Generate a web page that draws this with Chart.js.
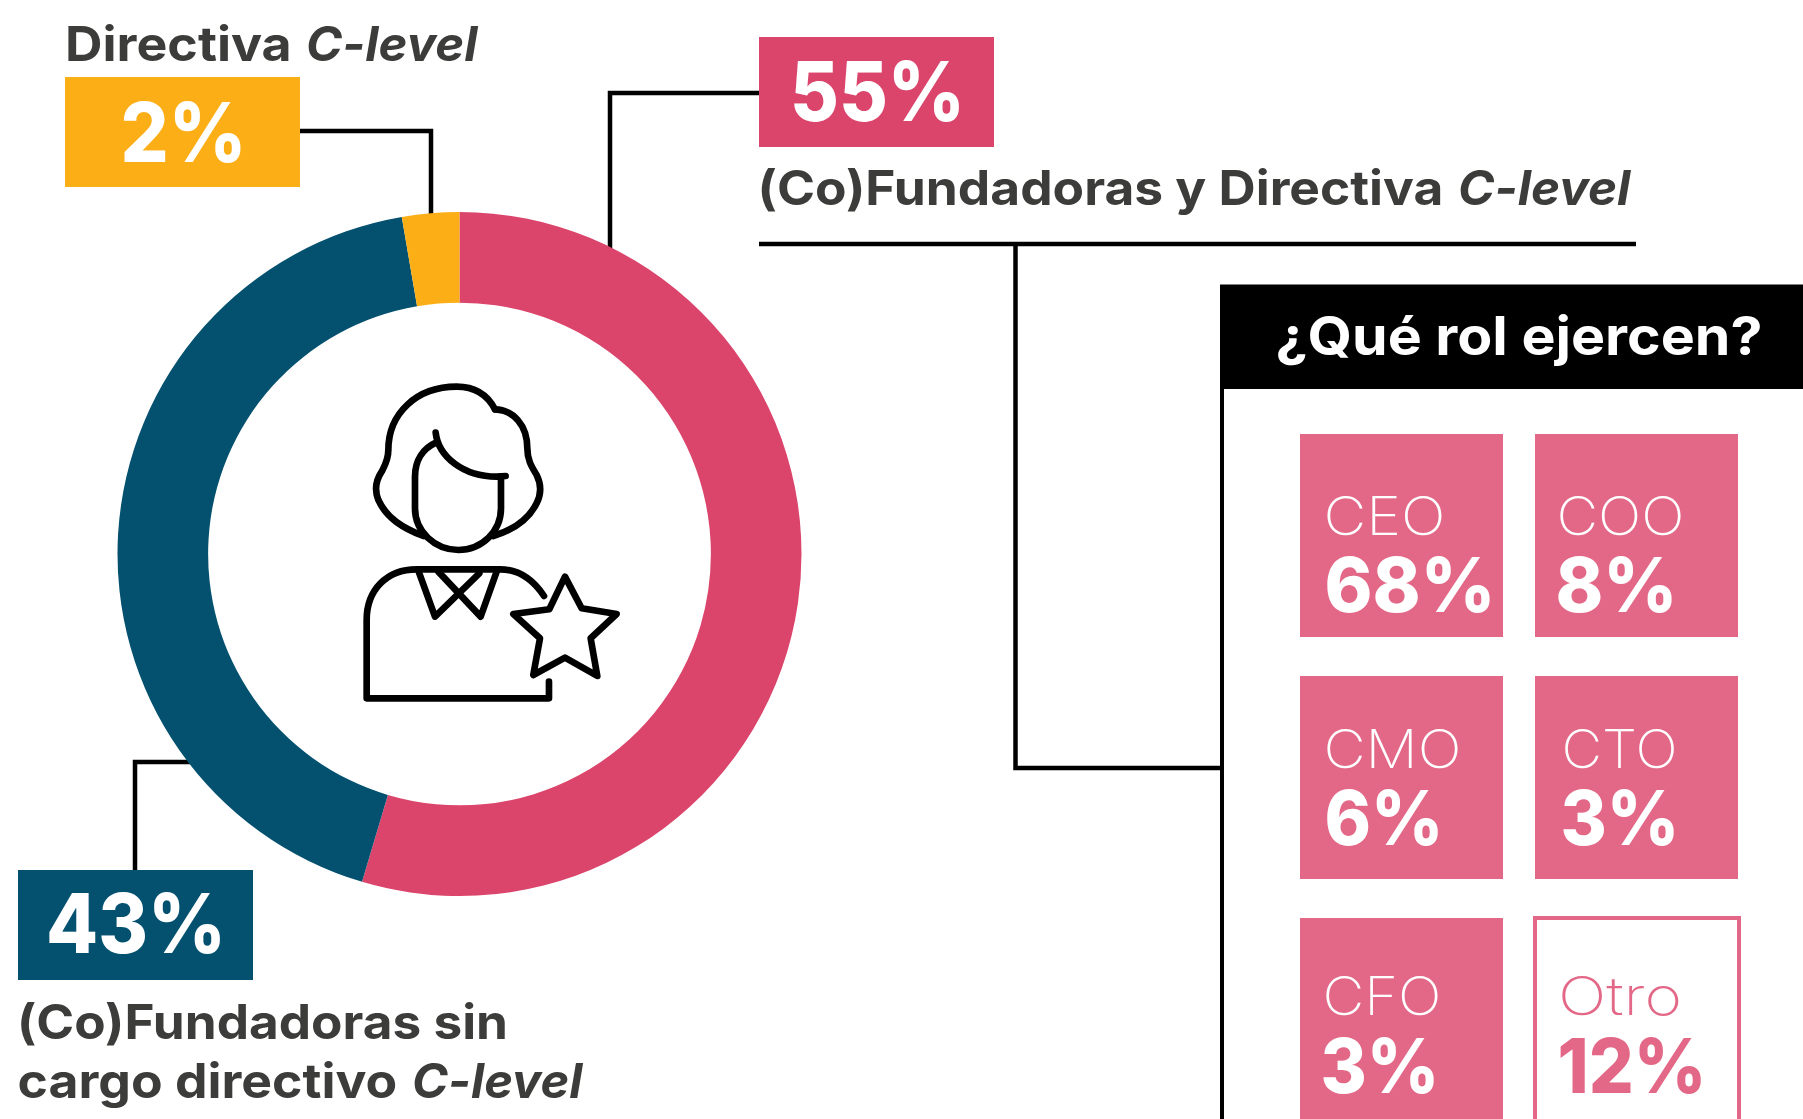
<!DOCTYPE html>
<html lang="es">
<head>
<meta charset="utf-8">
<title>Rol de las fundadoras y directivas</title>
<style>
html,body{margin:0;padding:0;background:#fff;width:1803px;height:1119px;overflow:hidden}
#art,#donut{position:absolute;left:0;top:0}
#donut{left:109px;top:204px}
text{font-family:Inter,"Open Sans",sans-serif}
</style>
<script src="https://cdn.jsdelivr.net/npm/chart.js@4"></script>
</head>
<body>
<svg id="art" width="1803" height="1119" viewBox="0 0 1803 1119" xmlns="http://www.w3.org/2000/svg"></svg>
<canvas id="donut" width="701" height="700"></canvas>
<script>
// Segment names and arc shares as read from the ring, clockwise from 12 o'clock.
const segmentNames = ["(Co)Fundadoras y Directiva C-level", "(Co)Fundadoras sin cargo directivo C-level", "Directiva C-level"];
const segmentShares = [54.6, 42.7, 2.7];
const segmentColors = ["#DB456C", "#03506F", "#FCAE17"];
// Percentages printed on the labels.
const segmentLabels = ["55%", "43%", "2%"];

const roleNames = ["CEO", "COO", "CMO", "CTO", "CFO", "Otro"];
const roleValues = [68, 8, 6, 3, 3, 12];
const roleTitle = "¿Qué rol ejercen?";

const NS = "http://www.w3.org/2000/svg";
const art = document.getElementById("art");
function el(tag, attrs, parent, content) {
  const n = document.createElementNS(NS, tag);
  for (const k in attrs) n.setAttribute(k, attrs[k]);
  if (content !== undefined) n.textContent = content;
  (parent || art).appendChild(n);
  return n;
}
// Text placed by left edge, baseline and width.
function label(x, y, w, size, weight, fill, text) {
  return el("text", {x, y, "font-size": size, "font-weight": weight, fill, textLength: w, lengthAdjust: "spacingAndGlyphs"}, art, text);
}
// Two-style label: an upright run, then an italic run with its own start and width.
function mixedLabel(y, size, weight, fill, x1, w1, text1, x2, w2, text2) {
  const t = el("text", {y, "font-size": size, "font-weight": weight, fill});
  el("tspan", {x: x1, textLength: w1, lengthAdjust: "spacingAndGlyphs"}, t, text1);
  el("tspan", {x: x2, textLength: w2, lengthAdjust: "spacingAndGlyphs", "font-style": "italic"}, t, text2);
  return t;
}
function rect(x, y, w, h, fill) { return el("rect", {x, y, width: w, height: h, fill}); }
function path(d, sw, stroke, parent) {
  return el("path", {d, fill: "none", stroke: stroke || "#000", "stroke-width": sw}, parent);
}

const DARK = "#3C3C3B", TILE = "#E36887", WHITE = "#fff";

// Connector lines
const lw = 4.5;
path("M300 131H431V225", lw);
path("M759 93H610V258", lw);
path("M195 762H135V872", lw);
path("M759 244H1636", lw);
path("M1015.5 244V768H1222", lw);

// Value boxes
rect(65, 77, 235, 110, segmentColors[2]);
rect(759, 37, 235, 110, segmentColors[0]);
rect(18, 870, 235, 110, segmentColors[1]);

mixedLabel(61, 48, 700, DARK, 65, 239, "Directiva ", 306, 171.5, "C-level");
label(120.5, 161.5, 126, 82, 800, WHITE, segmentLabels[2]);
label(790, 121, 175, 82, 800, WHITE, segmentLabels[0]);
mixedLabel(205, 48, 700, DARK, 757.5, 698, "(Co)Fundadoras y Directiva ", 1458, 172.5, "C-level");
label(46, 953, 180, 82, 800, WHITE, segmentLabels[1]);
label(17, 1039, 491, 48, 700, DARK, "(Co)Fundadoras sin");
mixedLabel(1097.5, 48, 700, DARK, 17.5, 392, "cargo directivo ", 412, 170.5, "C-level");

// Roles panel
rect(1220, 284.5, 583, 104.5, "#000");
rect(1220, 389, 4, 730, "#000");
label(1275.5, 355, 487, 53, 700, WHITE, roleTitle);

const tileX = [1300, 1535], tileY = [434, 676, 918], tileW = 203, tileH = 203;
const nameBase = [535, 768, 1015], valueBase = [612, 845, 1093];
const nameBox = [[1323.5, 122], [1556.5, 128], [1323.5, 138], [1561.5, 116], [1322.5, 119], [1558, 124]];
const valueBox = [[1324.5, 171], [1555.5, 122], [1324.5, 119], [1560.5, 119], [1320.5, 119], [1557.5, 149]];
roleNames.forEach((name, i) => {
  const c = i % 2, r = Math.floor(i / 2), outlined = name === "Otro";
  if (outlined) {
    el("rect", {x: tileX[c], y: tileY[r], width: tileW + 1, height: tileH + 10, fill: WHITE, stroke: TILE, "stroke-width": 4});
  } else {
    rect(tileX[c], tileY[r], tileW, tileH, TILE);
  }
  const ink = outlined ? TILE : WHITE;
  label(nameBox[i][0], nameBase[r], nameBox[i][1], 53, 200, ink, name);
  label(valueBox[i][0], valueBase[r], valueBox[i][1], 76, 800, ink, roleValues[i] + "%");
});

// Central icon
const icon = el("g", {transform: "translate(340 360) scale(0.3333)", "stroke-linecap": "round", "stroke-linejoin": "round"});
[
  "M465 148C440 100 400 80 350 80C230 80 145 160 145 270C145 300 135 315 125 335C105 365 105 395 115 420C140 475 190 505 250 528",
  "M465 148C520 150 562 195 562 265C562 300 575 320 590 345C605 375 605 400 590 430C565 480 520 510 460 528",
  "M288 248C250 265 225 300 225 350V445C225 515 285 570 355 570C425 570 483 515 483 445V350",
  "M287 218C295 290 370 350 470 350L497 348",
  "M612 708C580 660 535 628 480 628H230C140 628 80 690 80 780V1015H627V965",
  "M235 632L285 770L418 640",
  "M295 635L422 770L470 635",
  "M675 650L725 745L830 762L752 835L772 948L675 893L580 945L600 835L520 762L628 748Z"
].forEach(d => path(d, 20, "#000", icon));

// Ring drawn by Chart.js
new Chart(document.getElementById("donut"), {
  type: "doughnut",
  data: {
    labels: segmentNames,
    datasets: [{data: segmentShares, backgroundColor: segmentColors, borderWidth: 0, hoverOffset: 0}]
  },
  options: {
    responsive: false,
    animation: false,
    cutout: "73.5%",
    rotation: 0,
    layout: {padding: 8},
    plugins: {legend: {display: false}, tooltip: {enabled: false}, title: {display: false}}
  }
});
</script>
</body>
</html>
